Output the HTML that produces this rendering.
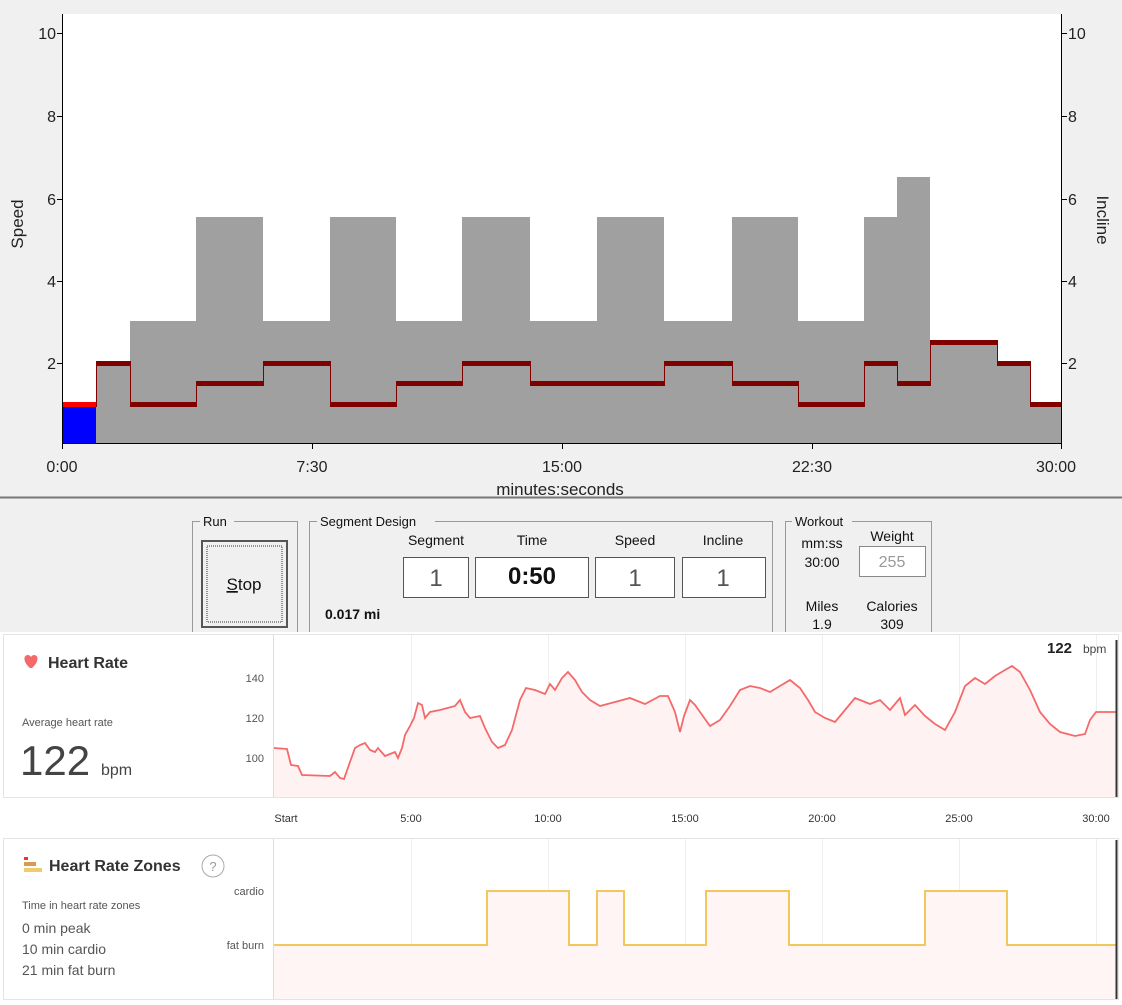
<!DOCTYPE html>
<html><head><meta charset="utf-8"><style>
html,body{margin:0;padding:0;background:#fff;}
svg{display:block;font-family:"Liberation Sans",sans-serif;}
</style></head><body>
<svg width="1122" height="1005" viewBox="0 0 1122 1005" xmlns="http://www.w3.org/2000/svg">
<rect x="0" y="0" width="1122" height="632" fill="#f0f0f0"/>
<rect x="62" y="14" width="1000" height="429" fill="#fff"/>
<g fill="#a0a0a0">
<rect x="96" y="363" width="34" height="80"/>
<rect x="130" y="321" width="66" height="122"/>
<rect x="196" y="217" width="67" height="226"/>
<rect x="263" y="321" width="67" height="122"/>
<rect x="330" y="217" width="66" height="226"/>
<rect x="396" y="321" width="66" height="122"/>
<rect x="462" y="217" width="68" height="226"/>
<rect x="530" y="321" width="67" height="122"/>
<rect x="597" y="217" width="67" height="226"/>
<rect x="664" y="321" width="68" height="122"/>
<rect x="732" y="217" width="66" height="226"/>
<rect x="798" y="321" width="66" height="122"/>
<rect x="864" y="217" width="33" height="226"/>
<rect x="897" y="177" width="33" height="266"/>
<rect x="930" y="342" width="67" height="101"/>
<rect x="997" y="363" width="33" height="80"/>
<rect x="1030" y="404" width="32" height="39"/>
</g>
<rect x="62" y="407" width="34" height="36" fill="#0000ff"/>
<rect x="62" y="402" width="34" height="5" fill="#ff0000"/>
<g fill="#800000">
<rect x="96" y="361" width="34" height="5"/>
<rect x="130" y="402" width="66" height="5"/>
<rect x="196" y="381" width="67" height="5"/>
<rect x="263" y="361" width="67" height="5"/>
<rect x="330" y="402" width="66" height="5"/>
<rect x="396" y="381" width="66" height="5"/>
<rect x="462" y="361" width="68" height="5"/>
<rect x="530" y="381" width="134" height="5"/>
<rect x="664" y="361" width="68" height="5"/>
<rect x="732" y="381" width="66" height="5"/>
<rect x="798" y="402" width="66" height="5"/>
<rect x="864" y="361" width="33" height="5"/>
<rect x="897" y="381" width="33" height="5"/>
<rect x="930" y="340" width="67" height="5"/>
<rect x="997" y="361" width="33" height="5"/>
<rect x="1030" y="402" width="32" height="5"/>
</g>
<g stroke="#800000" stroke-width="1">
<line x1="96.5" y1="361" x2="96.5" y2="407"/><line x1="130.5" y1="361" x2="130.5" y2="407"/>
<line x1="196.5" y1="381" x2="196.5" y2="407"/><line x1="263.5" y1="361" x2="263.5" y2="386"/>
<line x1="330.5" y1="361" x2="330.5" y2="407"/><line x1="396.5" y1="381" x2="396.5" y2="407"/>
<line x1="462.5" y1="361" x2="462.5" y2="386"/><line x1="530.5" y1="361" x2="530.5" y2="386"/>
<line x1="664.5" y1="361" x2="664.5" y2="386"/><line x1="732.5" y1="361" x2="732.5" y2="386"/>
<line x1="798.5" y1="381" x2="798.5" y2="407"/><line x1="864.5" y1="361" x2="864.5" y2="407"/>
<line x1="897.5" y1="361" x2="897.5" y2="386"/><line x1="930.5" y1="340" x2="930.5" y2="386"/>
<line x1="997.5" y1="340" x2="997.5" y2="366"/><line x1="1030.5" y1="361" x2="1030.5" y2="407"/>
</g>
<g stroke="#000" stroke-width="1" fill="none">
<line x1="62.5" y1="14" x2="62.5" y2="444"/>
<line x1="1061.5" y1="14" x2="1061.5" y2="444"/>
<line x1="62" y1="443.5" x2="1062" y2="443.5"/>
<line x1="57" y1="33.5" x2="62" y2="33.5"/><line x1="57" y1="116.5" x2="62" y2="116.5"/>
<line x1="57" y1="199.5" x2="62" y2="199.5"/><line x1="57" y1="281.5" x2="62" y2="281.5"/>
<line x1="57" y1="363.5" x2="62" y2="363.5"/>
<line x1="1062" y1="33.5" x2="1067" y2="33.5"/><line x1="1062" y1="116.5" x2="1067" y2="116.5"/>
<line x1="1062" y1="199.5" x2="1067" y2="199.5"/><line x1="1062" y1="281.5" x2="1067" y2="281.5"/>
<line x1="1062" y1="363.5" x2="1067" y2="363.5"/>
<line x1="62.5" y1="443" x2="62.5" y2="449"/><line x1="312.5" y1="443" x2="312.5" y2="449"/>
<line x1="562.5" y1="443" x2="562.5" y2="449"/><line x1="812.5" y1="443" x2="812.5" y2="449"/>
<line x1="1061.5" y1="443" x2="1061.5" y2="449"/>
</g>
<g font-size="16" fill="#222" text-anchor="end">
<text x="56" y="39">10</text><text x="56" y="122">8</text><text x="56" y="205">6</text><text x="56" y="287">4</text><text x="56" y="369">2</text>
</g>
<g font-size="16" fill="#222">
<text x="1068" y="39">10</text><text x="1068" y="122">8</text><text x="1068" y="205">6</text><text x="1068" y="287">4</text><text x="1068" y="369">2</text>
</g>
<g font-size="16" fill="#222" text-anchor="middle">
<text x="62" y="472">0:00</text><text x="312" y="472">7:30</text><text x="562" y="472">15:00</text><text x="812" y="472">22:30</text><text x="1056" y="472">30:00</text>
<text x="560" y="495" font-size="17">minutes:seconds</text>
<text transform="translate(23,224) rotate(-90)" font-size="17">Speed</text>
<text transform="translate(1097,220) rotate(90)" font-size="17">Incline</text>
</g>
<line x1="0" y1="497.5" x2="1122" y2="497.5" stroke="#777" stroke-width="2"/>
<g fill="none" stroke="#999">
<rect x="192.5" y="521.5" width="105" height="115"/>
<rect x="309.5" y="521.5" width="463" height="115"/>
<rect x="785.5" y="521.5" width="146" height="115"/>
</g>
<g font-size="13" fill="#111">
<rect x="200" y="514" width="34" height="14" fill="#f0f0f0"/><text x="203" y="526">Run</text>
<rect x="317" y="514" width="118" height="14" fill="#f0f0f0"/><text x="320" y="526">Segment Design</text>
<rect x="792" y="514" width="60" height="14" fill="#f0f0f0"/><text x="795" y="526">Workout</text>
</g>
<rect x="202" y="541" width="85" height="86" fill="#f0f0f0" stroke="#555" stroke-width="2"/>
<rect x="207" y="546" width="75" height="76" fill="none" stroke="#333" stroke-dasharray="1,1"/>
<text x="244" y="590" font-size="17" text-anchor="middle" fill="#111"><tspan text-decoration="underline">S</tspan>top</text>
<g font-size="14" fill="#111" text-anchor="middle">
<text x="436" y="545">Segment</text><text x="532" y="545">Time</text><text x="635" y="545">Speed</text><text x="723" y="545">Incline</text>
<text x="822" y="548">mm:ss</text><text x="822" y="567">30:00</text><text x="892" y="541">Weight</text>
<text x="822" y="611">Miles</text><text x="822" y="629">1.9</text><text x="892" y="611">Calories</text><text x="892" y="629">309</text>
</g>
<g fill="#fff" stroke="#555">
<rect x="403.5" y="557.5" width="65" height="40"/><rect x="475.5" y="557.5" width="113" height="40"/>
<rect x="595.5" y="557.5" width="79" height="40"/><rect x="682.5" y="557.5" width="83" height="40"/>
<rect x="859.5" y="546.5" width="66" height="30" stroke="#888"/>
</g>
<g font-size="24" fill="#555" text-anchor="middle">
<text x="436" y="586">1</text><text x="635" y="586">1</text><text x="723" y="586">1</text>
</g>
<text x="532" y="584" font-size="24" font-weight="bold" text-anchor="middle" fill="#111">0:50</text>
<text x="892" y="567" font-size="16" text-anchor="middle" fill="#999">255</text>
<text x="325" y="619" font-size="14" font-weight="bold" fill="#111">0.017 mi</text>
<rect x="0" y="632" width="1122" height="373" fill="#fff"/>
<rect x="3.5" y="634.5" width="1115" height="163" fill="#fff" stroke="#e4e4e4"/>
<line x1="273.5" y1="635" x2="273.5" y2="797" stroke="#ddd"/>
<g stroke="#eee"><line x1="411.5" y1="635" x2="411.5" y2="797"/><line x1="548.5" y1="635" x2="548.5" y2="797"/><line x1="685.5" y1="635" x2="685.5" y2="797"/><line x1="822.5" y1="635" x2="822.5" y2="797"/><line x1="959.5" y1="635" x2="959.5" y2="797"/><line x1="1096.5" y1="635" x2="1096.5" y2="797"/></g>
<path id="hr" d="M274,748 L287,749 L291,765 L298,766 L302,775 L330,776 L335,772 L340,778 L344,779 L350,762 L355,748 L360,745 L365,743 L370,750 L375,752 L378,748 L385,756 L395,752 L398,758 L402,748 L405,735 L410,726 L414,718 L418,703 L422,705 L425,718 L430,712 L440,710 L455,706 L460,700 L465,712 L470,718 L480,716 L485,728 L492,742 L498,748 L505,745 L512,730 L520,700 L526,688 L535,690 L545,694 L550,684 L555,690 L562,678 L568,672 L575,680 L582,692 L590,700 L600,706 L615,702 L630,698 L645,704 L660,696 L668,696 L675,712 L680,732 L684,716 L690,700 L695,705 L700,712 L710,726 L720,720 L730,706 L740,690 L750,686 L760,688 L770,692 L780,686 L790,680 L800,688 L808,700 L815,712 L825,718 L835,722 L845,710 L855,698 L870,704 L880,700 L890,710 L900,698 L905,715 L915,705 L925,716 L935,724 L945,730 L955,712 L965,686 L975,678 L985,684 L995,676 L1005,670 L1012,666 L1020,672 L1030,690 L1040,712 L1050,724 L1060,732 L1075,736 L1085,734 L1090,720 L1096,712 L1116,712" fill="none"/>
<path d="M274,748 L287,749 L291,765 L298,766 L302,775 L330,776 L335,772 L340,778 L344,779 L350,762 L355,748 L360,745 L365,743 L370,750 L375,752 L378,748 L385,756 L395,752 L398,758 L402,748 L405,735 L410,726 L414,718 L418,703 L422,705 L425,718 L430,712 L440,710 L455,706 L460,700 L465,712 L470,718 L480,716 L485,728 L492,742 L498,748 L505,745 L512,730 L520,700 L526,688 L535,690 L545,694 L550,684 L555,690 L562,678 L568,672 L575,680 L582,692 L590,700 L600,706 L615,702 L630,698 L645,704 L660,696 L668,696 L675,712 L680,732 L684,716 L690,700 L695,705 L700,712 L710,726 L720,720 L730,706 L740,690 L750,686 L760,688 L770,692 L780,686 L790,680 L800,688 L808,700 L815,712 L825,718 L835,722 L845,710 L855,698 L870,704 L880,700 L890,710 L900,698 L905,715 L915,705 L925,716 L935,724 L945,730 L955,712 L965,686 L975,678 L985,684 L995,676 L1005,670 L1012,666 L1020,672 L1030,690 L1040,712 L1050,724 L1060,732 L1075,736 L1085,734 L1090,720 L1096,712 L1116,712 L1116,797 L274,797 Z" fill="#fff2f2"/>
<use href="#hr" stroke="#f46a6a" stroke-width="1.8"/>
<line x1="1116.5" y1="640" x2="1116.5" y2="797" stroke="#333" stroke-width="2"/>
<path d="M30,668 C23,662 23,655 28,655 C30,655 31,657 31,657 C31,657 32,655 34,655 C39,655 39,662 32,668 Z" fill="#f46a6a"/>
<g fill="#333">
<text x="48" y="668" font-size="16" font-weight="bold">Heart Rate</text>
<text x="22" y="726" font-size="11" fill="#555">Average heart rate</text>
<text x="20" y="775" font-size="42" fill="#444">122</text>
<text x="101" y="775" font-size="16" fill="#444">bpm</text>
<text x="264" y="682" font-size="11" fill="#555" text-anchor="end">140</text>
<text x="264" y="722" font-size="11" fill="#555" text-anchor="end">120</text>
<text x="264" y="762" font-size="11" fill="#555" text-anchor="end">100</text>
<text x="1047" y="653" font-size="15" font-weight="bold" fill="#222">122</text>
<text x="1083" y="653" font-size="12" fill="#444">bpm</text>
</g>
<g font-size="11" fill="#333" text-anchor="middle">
<text x="286" y="822">Start</text><text x="411" y="822">5:00</text><text x="548" y="822">10:00</text><text x="685" y="822">15:00</text><text x="822" y="822">20:00</text><text x="959" y="822">25:00</text><text x="1096" y="822">30:00</text>
</g>
<rect x="3.5" y="838.5" width="1115" height="161" fill="#fff" stroke="#e4e4e4"/>
<line x1="273.5" y1="839" x2="273.5" y2="999" stroke="#ddd"/>
<g stroke="#eee"><line x1="411.5" y1="839" x2="411.5" y2="999"/><line x1="548.5" y1="839" x2="548.5" y2="999"/><line x1="685.5" y1="839" x2="685.5" y2="999"/><line x1="822.5" y1="839" x2="822.5" y2="999"/><line x1="959.5" y1="839" x2="959.5" y2="999"/><line x1="1096.5" y1="839" x2="1096.5" y2="999"/></g>
<path d="M274,945 L487,945 L487,891 L569,891 L569,945 L597,945 L597,891 L624,891 L624,945 L706,945 L706,891 L789,891 L789,945 L925,945 L925,891 L1007,891 L1007,945 L1116,945 L1116,999 L274,999 Z" fill="#fff5f5"/>
<path d="M274,945 L487,945 L487,891 L569,891 L569,945 L597,945 L597,891 L624,891 L624,945 L706,945 L706,891 L789,891 L789,945 L925,945 L925,891 L1007,891 L1007,945 L1116,945" fill="none" stroke="#f2c75c" stroke-width="2"/>
<line x1="1116.5" y1="840" x2="1116.5" y2="999" stroke="#333" stroke-width="2"/>
<rect x="24" y="857" width="4" height="3" fill="#e33"/>
<rect x="24" y="862" width="12" height="4" fill="#d99a55"/>
<rect x="24" y="868" width="18" height="4" fill="#f0cc6a"/>
<text x="49" y="871" font-size="16" font-weight="bold" fill="#333">Heart Rate Zones</text>
<circle cx="213" cy="866" r="11" fill="none" stroke="#aaa"/>
<text x="213" y="871" font-size="13" fill="#999" text-anchor="middle">?</text>
<g fill="#555">
<text x="22" y="909" font-size="11">Time in heart rate zones</text>
<text x="22" y="933" font-size="14">0 min peak</text>
<text x="22" y="954" font-size="14">10 min cardio</text>
<text x="22" y="975" font-size="14">21 min fat burn</text>
<text x="264" y="895" font-size="11" text-anchor="end">cardio</text>
<text x="264" y="949" font-size="11" text-anchor="end">fat burn</text>
</g>
</svg>
</body></html>
